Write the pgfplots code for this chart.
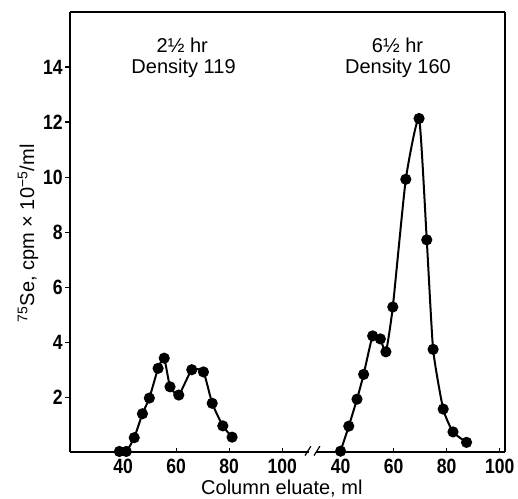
\documentclass[border=0pt]{standalone}
\usepackage{pgfplots}
\usepackage{pgfplotstable}
\pgfplotsset{compat=1.18}
\usepackage{fontspec}
\setmainfont{Liberation Sans}
\newfontfamily\tickfont{Liberation Sans}[FakeStretch=0.85]
\pgfplotstableread{
x y
38.6 0.03
41.2 0.03
44.2 0.53
47.3 1.40
49.9 1.97
53.2 3.05
55.5 3.42
57.7 2.38
61.0 2.08
65.9 3.00
70.3 2.92
73.6 1.78
77.6 0.96
81.1 0.55
}\lefttab
\pgfplotstableread{
x y
40.0 0.04
43.1 0.95
46.2 1.93
48.7 2.83
52.1 4.23
55.0 4.12
57.1 3.65
59.7 5.28
64.6 9.92
69.6 12.13
72.5 7.72
74.9 3.74
78.7 1.57
82.4 0.74
87.5 0.36
}\righttab
\begin{document}
\begin{tikzpicture}
\begin{axis}[
  scale only axis,
  width=326pt, height=330pt,
  xmin=20, xmax=184, ymin=0, ymax=16,
  separate axis lines,
  axis line style={draw=black, line width=1.2pt},
  xtick={40,60,80,100,122,142,162,182},
  xticklabels={40,60,80,100,40,60,80,100},
  ytick={2,4,...,14},
  xtick pos=bottom, ytick pos=left,
  xtick align=inside, ytick align=outside,
  major tick length=3.5pt,
  tick style={line width=0.9pt, black},
  /pgf/number format/assume math mode=true,
  ticklabel style={font=\fontsize{15.5}{17}\tickfont\bfseries},
  xticklabel style={anchor=base, yshift=-15.75pt},
  yticklabel style={xshift=1.5pt},
  xlabel={Column eluate, ml},
  ylabel={\textsuperscript{75}Se, cpm × 10\textsuperscript{−5}/ml},
  label style={font=\fontsize{15}{17}\selectfont},
  xlabel style={at={(axis description cs:0.487,0)}, anchor=base, yshift=-32pt},
  ylabel style={at={(axis description cs:0,0.497)}, anchor=center, yshift=31.5pt},
  clip=false,
]
\addplot[black, line width=1.5pt, smooth, tension=0.3, mark=*, mark size=3.4pt] table[x=x,y=y] {\lefttab};
\addplot[black, line width=1.5pt, smooth, tension=0.3, mark=*, mark size=3.4pt] table[x expr=\thisrow{x}+82, y=y] {\righttab};
\fill[white] (axis cs:110.2,-0.3) rectangle (axis cs:112.6,0.3);
\draw[line width=0.9pt] (axis cs:108.6,-0.12) -- (axis cs:110.8,0.22);
\draw[line width=0.9pt] (axis cs:112.0,-0.12) -- (axis cs:114.2,0.22);
\node[anchor=base, font=\fontsize{15}{17}\selectfont] at (axis description cs:0.258,0.907) {2½ hr};
\node[anchor=base, font=\fontsize{15}{17}\selectfont] at (axis description cs:0.261,0.861) {Density 119};
\node[anchor=base, font=\fontsize{15}{17}\selectfont] at (axis description cs:0.753,0.907) {6½ hr};
\node[anchor=base, font=\fontsize{15}{17}\selectfont] at (axis description cs:0.754,0.861) {Density 160};
\coordinate (SW) at (rel axis cs:0,0);
\coordinate (NE) at (rel axis cs:1,1);
\end{axis}
\pgfresetboundingbox
\path ([shift={(-52.5pt,-34.5pt)}]SW) rectangle ([shift={(9.75pt,9pt)}]NE);
\end{tikzpicture}
\end{document}
